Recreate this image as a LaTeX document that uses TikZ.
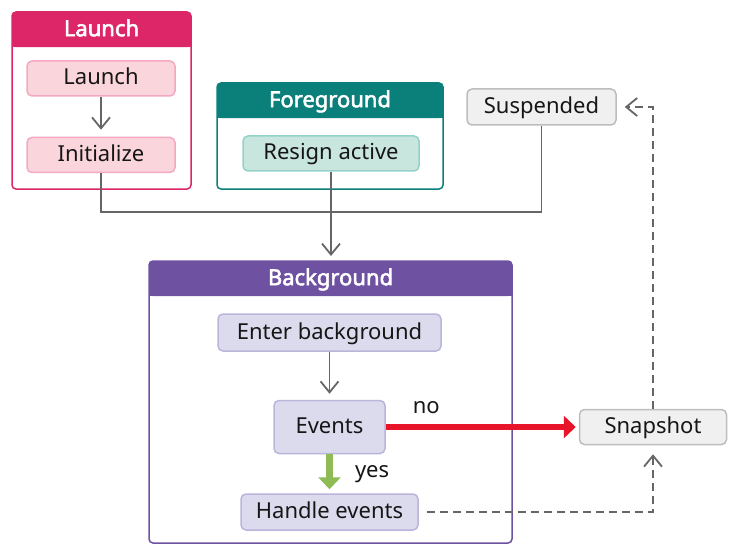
\documentclass[tikz,border=0pt]{standalone}
\usepackage{fontspec}
\setmainfont{Noto Sans}[AutoFakeBold=2.5]
\usetikzlibrary{arrows.meta,positioning}
\definecolor{launch}{HTML}{DC2667}
\definecolor{launchfill}{HTML}{FAD5DC}
\definecolor{launchline}{HTML}{F4A8C3}
\definecolor{fg}{HTML}{0B7F79}
\definecolor{fgfill}{HTML}{C9E6DE}
\definecolor{fgline}{HTML}{92D2C8}
\definecolor{bg}{HTML}{6E51A1}
\definecolor{bgfill}{HTML}{DCDBEE}
\definecolor{bgline}{HTML}{BAB5DB}
\definecolor{suspfill}{HTML}{F0F0F0}
\definecolor{suspline}{HTML}{BDBDBD}
\definecolor{ink}{HTML}{161616}
\definecolor{wire}{HTML}{666666}
\definecolor{nored}{HTML}{E8152A}
\definecolor{yesgreen}{HTML}{8FBB55}
\tikzset{
  statebox/.style={
    rectangle, rounded corners=5pt, draw=#1line, fill=#1fill,
    line width=1.5pt, minimum height=35pt, inner sep=0pt,
    text height=18pt, text depth=5pt
  },
  groupframe/.style={
    rectangle, rounded corners=4pt, draw=#1, fill=white,
    line width=1.5pt, inner sep=0pt, outer sep=0pt
  },
  grouphead/.style={
    rectangle, rounded corners=4pt, fill=#1, text=white,
    font=\fontsize{22}{26}\selectfont\bfseries,
    minimum height=35pt, inner sep=0pt, anchor=north,
    text height=18pt, text depth=5pt
  },
  flowline/.style={line width=1.8pt, color=wire},
  flowarrow/.style={-{Straight Barb[length=11pt, width=18pt]}, line width=1.8pt, color=wire},
  dasharrow/.style={-{Straight Barb[length=11pt, width=18pt]}, line width=1.8pt,
    color=wire, dash pattern=on 8pt off 5pt},
  noarrow/.style={-{Triangle[length=12pt, width=22pt]}, line width=6pt, color=nored},
  yesarrow/.style={-{Triangle[length=12pt, width=22pt]}, line width=7pt, color=yesgreen},
  labelnode/.style={font=\fontsize{22}{26}\selectfont, text=ink, inner sep=0pt}
}
\begin{document}
\begin{tikzpicture}[
  x=1pt, y=-1pt,
  every node/.style={font=\fontsize{22}{26}\selectfont, text=ink}
]
\useasboundingbox (0,0) rectangle (738,556);

% GROUP FRAMES
\node[groupframe=launch, minimum width=179pt, minimum height=177pt] (gl) at (101.5,100.5) {};
\node[grouphead=launch, minimum width=179pt] (gl-h) at (gl.north) {Launch};
\fill[launch] (gl-h.south west) rectangle ++(5pt,5pt);
\fill[launch] (gl-h.south east) rectangle ++(-5pt,5pt);

\node[groupframe=fg, minimum width=226pt, minimum height=106pt] (gf) at (330,136) {};
\node[grouphead=fg, minimum width=226pt] (gf-h) at (gf.north) {Foreground};
\fill[fg] (gf-h.south west) rectangle ++(5pt,5pt);
\fill[fg] (gf-h.south east) rectangle ++(-5pt,5pt);

\node[groupframe=bg, minimum width=363pt, minimum height=282pt] (gb) at (330.5,402) {};
\node[grouphead=bg, minimum width=363pt] (gb-h) at (gb.north) {Background};
\fill[bg] (gb-h.south west) rectangle ++(5pt,5pt);
\fill[bg] (gb-h.south east) rectangle ++(-5pt,5pt);

% STATES
\node[statebox=launch, minimum width=148pt] (launch) at (101,78.5) {Launch};
\node[statebox=launch, minimum width=148pt, below=40pt of launch] (init) {Initialize};
\node[statebox=fg, minimum width=176pt] (resign) at (331,153.5) {Resign active};
\node[statebox=susp, minimum width=149pt, minimum height=36pt] (susp) at (541.5,107) {Suspended};

\node[statebox=bg, minimum width=223pt, minimum height=37pt] (enterbg) at (329.5,332.5) {Enter background};
\node[statebox=bg, minimum width=111pt, minimum height=53pt, below=48pt of enterbg] (events) {Events};
\node[statebox=bg, minimum width=177pt, minimum height=36pt, below=39pt of events] (handle) {Handle events};
\node[statebox=susp, minimum width=147pt, right=193pt of events] (snap) {Snapshot};

% Into background
\draw[flowarrow, shorten >=7pt] (launch) -- (init);
\coordinate (merge) at (331,212);
\draw[flowline] (init) |- (merge);
\draw[flowline] (susp) |- (merge);
\draw[flowarrow, shorten >=5pt] (resign.south) -- (resign.south |- gb.north);

% Inside background
\draw[flowarrow, shorten >=6pt] (enterbg) -- (events);
\draw[noarrow, shorten >=3pt] (events) -- node[labelnode, pos=0.21, above=10pt] {no} (snap);
\draw[yesarrow, shorten >=4pt] (events) -- node[labelnode, right=22pt] {yes} (handle);

% Snapshot and suspend (dashed)
\draw[dasharrow, shorten <=8pt, shorten >=9pt] (handle) -| (snap);
\draw[dasharrow, shorten >=8pt] (snap) |- (susp);

\end{tikzpicture}
\end{document}
